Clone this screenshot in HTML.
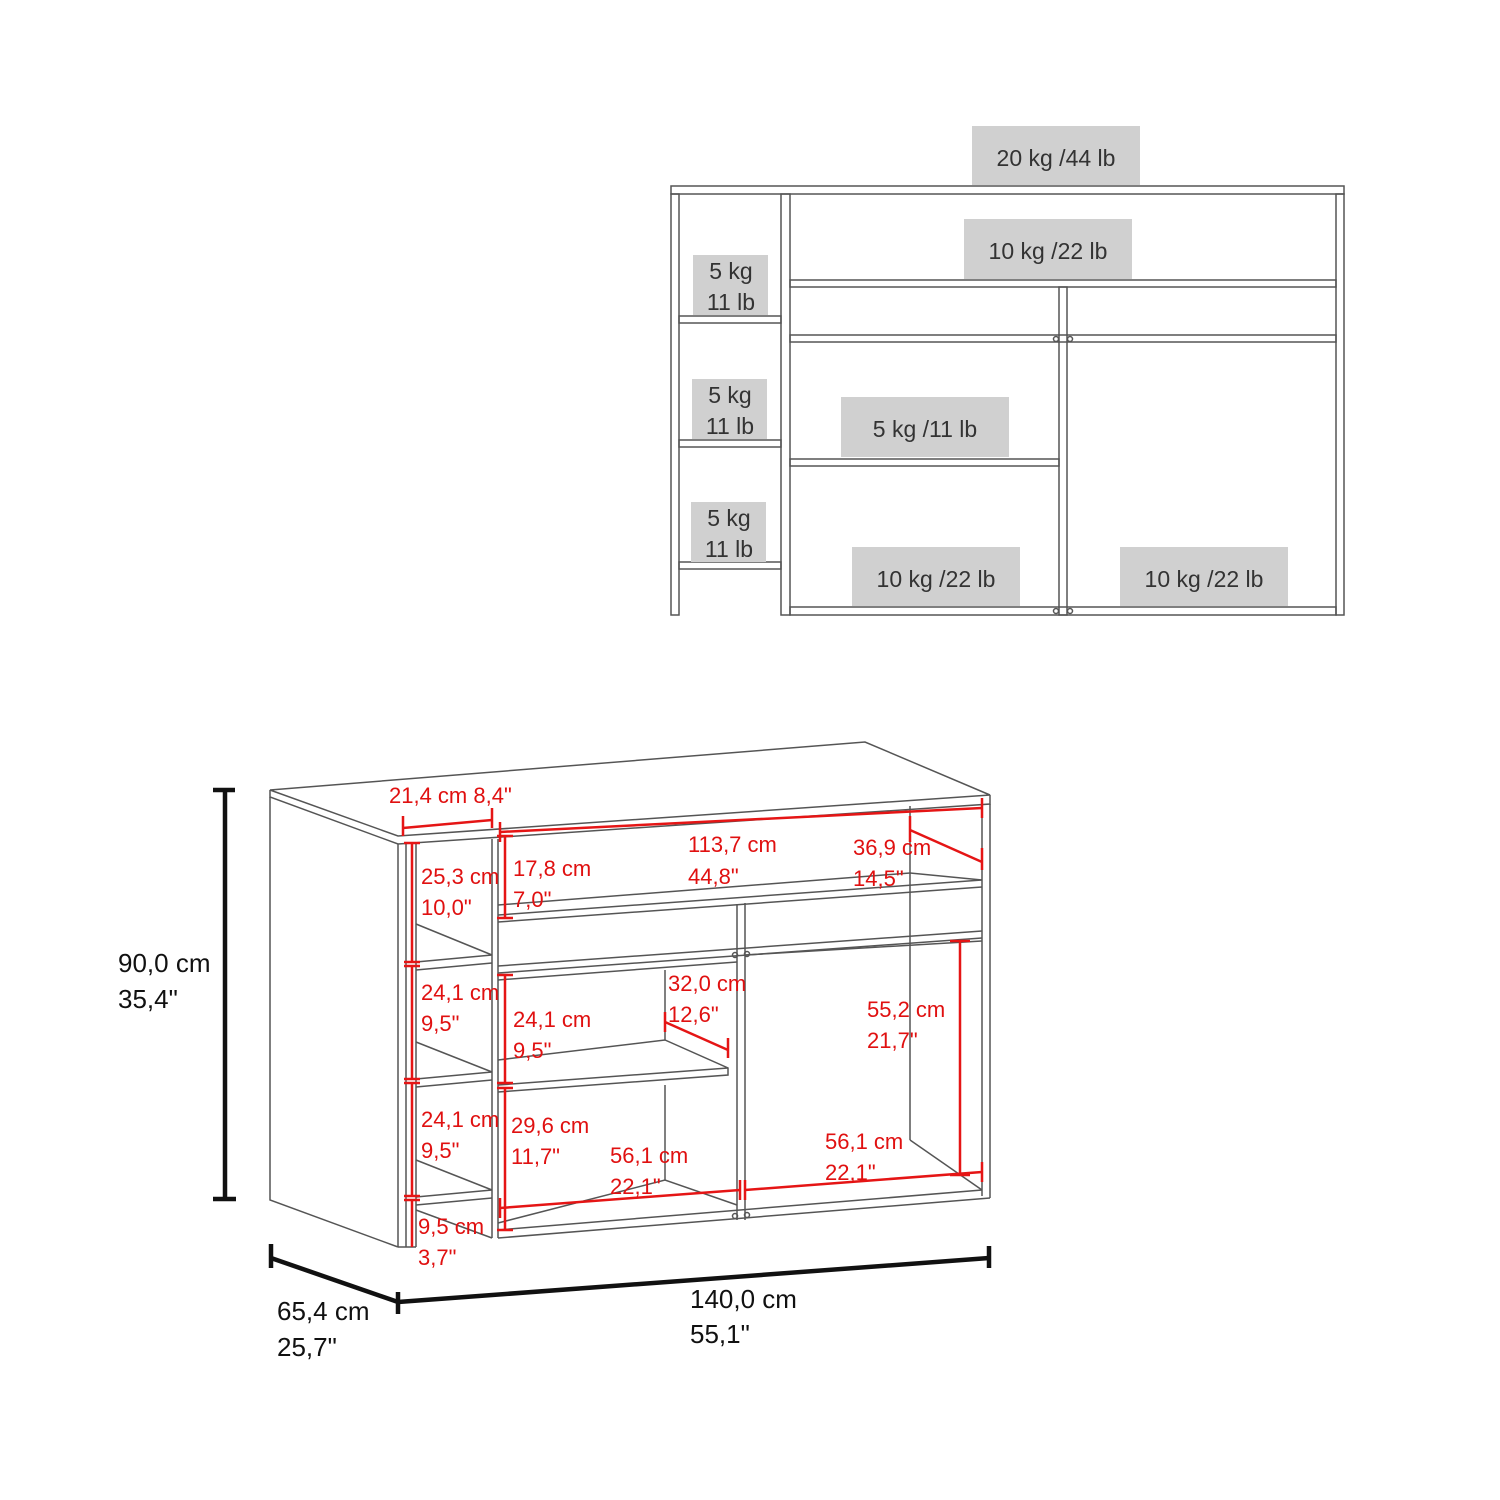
<!DOCTYPE html>
<html><head><meta charset="utf-8"><style>
html,body{margin:0;padding:0;background:#fff}
svg{display:block}
.g{fill:#d0d0d0}
.gt{font-family:"Liberation Sans",sans-serif;font-size:23px;fill:#333}
.r{font-family:"Liberation Sans",sans-serif;font-size:22px;fill:#e01010}
.k{font-family:"Liberation Sans",sans-serif;font-size:26px;fill:#111}
.ln{fill:none;stroke:#555;stroke-width:1.5}
.rd{fill:none;stroke:#e51515;stroke-width:2.5}
.bk{fill:none;stroke:#111;stroke-width:4.5}
</style></head><body>
<svg width="1500" height="1500" viewBox="0 0 1500 1500" xmlns="http://www.w3.org/2000/svg">
<g class="ln">
<rect x="671" y="186" width="673" height="8"/>
<rect x="671" y="194" width="8" height="421"/>
<rect x="781" y="194" width="9" height="421"/>
<rect x="1336" y="194" width="8" height="421"/>
<rect x="790" y="280" width="546" height="7"/>
<rect x="1059" y="287" width="8" height="328"/>
<rect x="790" y="335" width="546" height="7"/>
<rect x="790" y="459" width="269" height="7"/>
<rect x="790" y="607" width="546" height="8"/>
<rect x="679" y="316" width="102" height="7"/>
<rect x="679" y="440" width="102" height="7"/>
<rect x="679" y="562" width="102" height="7"/>
<circle cx="1056" cy="339" r="2.5"/><circle cx="1070" cy="339" r="2.5"/>
<circle cx="1056" cy="611" r="2.5"/><circle cx="1070" cy="611" r="2.5"/>
</g>
<rect class="g" x="972" y="126" width="168" height="59"/>
<text class="gt" x="1056" y="166" text-anchor="middle">20 kg /44 lb</text>
<rect class="g" x="964" y="219" width="168" height="60"/>
<text class="gt" x="1048" y="259" text-anchor="middle">10 kg /22 lb</text>
<rect class="g" x="693" y="255" width="75" height="60"/>
<text class="gt" x="731" y="279" text-anchor="middle">5 kg</text><text class="gt" x="731" y="310" text-anchor="middle">11 lb</text>
<rect class="g" x="692" y="379" width="75" height="60"/>
<text class="gt" x="730" y="403" text-anchor="middle">5 kg</text><text class="gt" x="730" y="434" text-anchor="middle">11 lb</text>
<rect class="g" x="691" y="502" width="75" height="60"/>
<text class="gt" x="729" y="526" text-anchor="middle">5 kg</text><text class="gt" x="729" y="557" text-anchor="middle">11 lb</text>
<rect class="g" x="841" y="397" width="168" height="60"/>
<text class="gt" x="925" y="437" text-anchor="middle">5 kg /11 lb</text>
<rect class="g" x="852" y="547" width="168" height="59"/>
<text class="gt" x="936" y="587" text-anchor="middle">10 kg /22 lb</text>
<rect class="g" x="1120" y="547" width="168" height="59"/>
<text class="gt" x="1204" y="587" text-anchor="middle">10 kg /22 lb</text>

<g class="ln">
<polygon points="270,790 865,742 990,795 398,836"/>
<polyline points="270,790 270,797 398,844 990,804 990,795"/>
<polyline points="270,797 270,1200 398,1247"/>
<line x1="398" y1="844" x2="398" y2="1247"/>
<line x1="406" y1="843" x2="406" y2="1247"/>
<line x1="416" y1="843" x2="416" y2="1247"/>
<line x1="398" y1="1247" x2="416" y2="1247"/>
<line x1="492" y1="839" x2="492" y2="1238"/>
<line x1="498" y1="839" x2="498" y2="1238"/>
<line x1="982" y1="805" x2="982" y2="1196"/>
<line x1="990" y1="804" x2="990" y2="1198"/>
<line x1="910" y1="806" x2="910" y2="1140"/>
<polyline points="416,924 492,955 416,962"/><line x1="416" y1="970" x2="492" y2="963"/>
<polyline points="416,1042 492,1072 416,1079"/><line x1="416" y1="1087" x2="492" y2="1080"/>
<polyline points="416,1160 492,1190 416,1197"/><line x1="416" y1="1205" x2="492" y2="1198"/>
<line x1="416" y1="1210" x2="492" y2="1238"/>
<polyline points="498,905 910,873 982,880"/>
<line x1="498" y1="915" x2="982" y2="880"/>
<line x1="498" y1="922" x2="982" y2="887"/>
<line x1="498" y1="966" x2="982" y2="931"/>
<line x1="498" y1="973" x2="982" y2="938"/>
<line x1="498" y1="980" x2="737" y2="962"/>
<line x1="745" y1="955" x2="982" y2="941"/>
<line x1="737" y1="904" x2="737" y2="1220"/>
<line x1="745" y1="903" x2="745" y2="1220"/>
<polyline points="498,1060 665,1040 728,1068 728,1075 498,1092"/>
<line x1="498" y1="1085" x2="728" y2="1068"/>
<line x1="665" y1="1040" x2="665" y2="970"/>
<line x1="665" y1="1085" x2="665" y2="1180"/>
<polyline points="498,1223 665,1180 737,1205"/>
<line x1="498" y1="1230" x2="982" y2="1190"/>
<line x1="498" y1="1238" x2="990" y2="1198"/>
<line x1="910" y1="1140" x2="982" y2="1190"/>
<circle cx="735" cy="955" r="2.5"/><circle cx="747" cy="954" r="2.5"/>
<circle cx="735" cy="1216" r="2.5"/><circle cx="747" cy="1215" r="2.5"/>
</g>
<g class="rd">
<line x1="403" y1="828" x2="492" y2="820"/><line x1="403" y1="816" x2="403" y2="836"/><line x1="492" y1="808" x2="492" y2="828"/>
<line x1="500" y1="832" x2="982" y2="808"/><line x1="500" y1="822" x2="500" y2="842"/><line x1="982" y1="798" x2="982" y2="818"/>
<line x1="910" y1="830" x2="982" y2="862"/><line x1="910" y1="816" x2="910" y2="842"/><line x1="982" y1="848" x2="982" y2="870"/>
<line x1="505" y1="836" x2="505" y2="918"/><line x1="497" y1="836" x2="513" y2="836"/><line x1="497" y1="918" x2="513" y2="918"/>
<line x1="412" y1="843" x2="412" y2="962"/><line x1="404" y1="843" x2="420" y2="843"/><line x1="404" y1="962" x2="420" y2="962"/>
<line x1="412" y1="966" x2="412" y2="1079"/><line x1="404" y1="966" x2="420" y2="966"/><line x1="404" y1="1079" x2="420" y2="1079"/>
<line x1="412" y1="1083" x2="412" y2="1196"/><line x1="404" y1="1083" x2="420" y2="1083"/><line x1="404" y1="1196" x2="420" y2="1196"/>
<line x1="412" y1="1200" x2="412" y2="1247"/><line x1="404" y1="1200" x2="420" y2="1200"/>
<line x1="505" y1="975" x2="505" y2="1083"/><line x1="497" y1="975" x2="513" y2="975"/><line x1="497" y1="1083" x2="513" y2="1083"/>
<line x1="505" y1="1088" x2="505" y2="1230"/><line x1="497" y1="1088" x2="513" y2="1088"/><line x1="497" y1="1230" x2="513" y2="1230"/>
<line x1="665" y1="1022" x2="728" y2="1050"/><line x1="665" y1="1012" x2="665" y2="1032"/><line x1="728" y1="1038" x2="728" y2="1058"/>
<line x1="960" y1="941" x2="960" y2="1175"/><line x1="950" y1="941" x2="970" y2="941"/><line x1="950" y1="1175" x2="970" y2="1175"/>
<line x1="500" y1="1208" x2="740" y2="1190"/><line x1="500" y1="1198" x2="500" y2="1218"/><line x1="740" y1="1180" x2="740" y2="1200"/>
<line x1="745" y1="1190" x2="982" y2="1172"/><line x1="745" y1="1180" x2="745" y2="1200"/><line x1="982" y1="1162" x2="982" y2="1182"/>
</g>
<text class="r" x="389" y="803">21,4 cm 8,4"</text>
<text class="r" x="688" y="852">113,7 cm</text><text class="r" x="688" y="884">44,8"</text>
<text class="r" x="853" y="855">36,9 cm</text><text class="r" x="853" y="886">14,5"</text>
<text class="r" x="513" y="876">17,8 cm</text><text class="r" x="513" y="907">7,0"</text>
<text class="r" x="421" y="884">25,3 cm</text><text class="r" x="421" y="915">10,0"</text>
<text class="r" x="421" y="1000">24,1 cm</text><text class="r" x="421" y="1031">9,5"</text>
<text class="r" x="421" y="1127">24,1 cm</text><text class="r" x="421" y="1158">9,5"</text>
<text class="r" x="418" y="1234">9,5 cm</text><text class="r" x="418" y="1265">3,7"</text>
<text class="r" x="513" y="1027">24,1 cm</text><text class="r" x="513" y="1058">9,5"</text>
<text class="r" x="511" y="1133">29,6 cm</text><text class="r" x="511" y="1164">11,7"</text>
<text class="r" x="668" y="991">32,0 cm</text><text class="r" x="668" y="1022">12,6"</text>
<text class="r" x="867" y="1017">55,2 cm</text><text class="r" x="867" y="1048">21,7"</text>
<text class="r" x="610" y="1163">56,1 cm</text><text class="r" x="610" y="1194">22,1"</text>
<text class="r" x="825" y="1149">56,1 cm</text><text class="r" x="825" y="1180">22,1"</text>
<g class="bk">
<line x1="225" y1="790" x2="225" y2="1200"/><line x1="213" y1="790" x2="235" y2="790"/><line x1="213" y1="1199" x2="236" y2="1199"/>
<line x1="271" y1="1258" x2="398" y2="1302"/><line x1="398" y1="1302" x2="989" y2="1258"/>
<line x1="271" y1="1244" x2="271" y2="1268"/><line x1="398" y1="1292" x2="398" y2="1314"/><line x1="989" y1="1246" x2="989" y2="1268"/>
</g>
<text class="k" x="118" y="972">90,0 cm</text><text class="k" x="118" y="1008">35,4"</text>
<text class="k" x="277" y="1320">65,4 cm</text><text class="k" x="277" y="1356">25,7"</text>
<text class="k" x="690" y="1308">140,0 cm</text><text class="k" x="690" y="1343">55,1"</text>
</svg>
</body></html>
